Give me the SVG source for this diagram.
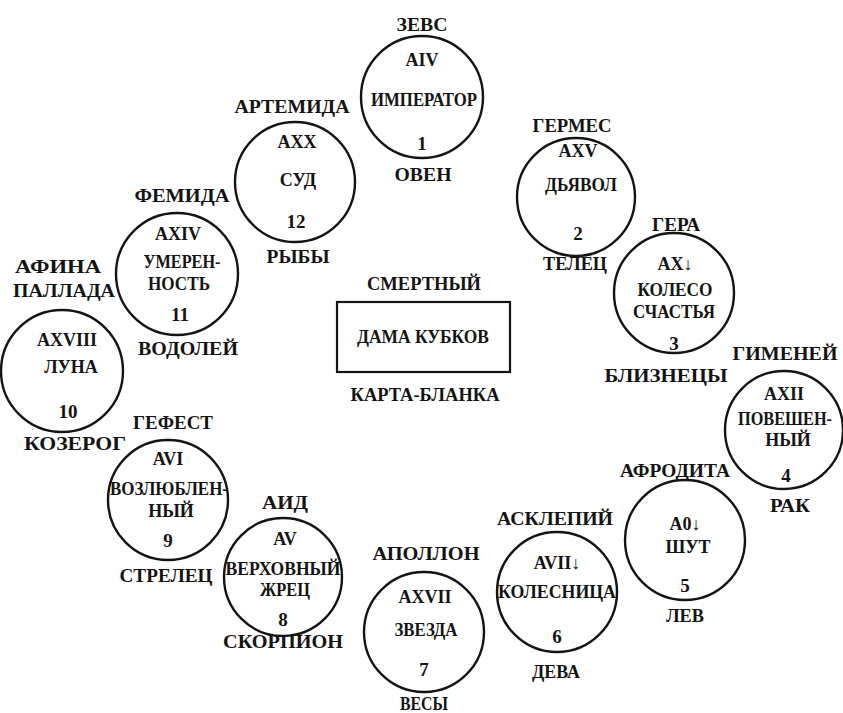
<svg xmlns="http://www.w3.org/2000/svg" width="843" height="713" viewBox="0 0 843 713">
<style>
  .c { fill: none; stroke: #141414; stroke-width: 2.4; }
  .r { fill: none; stroke: #141414; stroke-width: 2.2; }
  text { font-family: "Liberation Serif", "DejaVu Serif", serif; font-weight: bold; fill: #141414; text-anchor: middle; }
  .lab { font-size: 19px; }
  .in { font-size: 18px; }
  .num { font-size: 19px; }
</style>
<rect width="843" height="713" fill="#ffffff"/>

<g id="center">
  <text class="lab" x="424" y="290" textLength="114" lengthAdjust="spacingAndGlyphs">СМЕРТНЫЙ</text>
  <rect class="r" x="337" y="302" width="173" height="70"/>
  <text class="in" x="423" y="343" textLength="132" lengthAdjust="spacingAndGlyphs">ДАМА КУБКОВ</text>
  <text class="lab" x="425" y="401" textLength="149" lengthAdjust="spacingAndGlyphs">КАРТА-БЛАНКА</text>
</g>

<g id="n1">
  <circle class="c" cx="422" cy="97" r="61"/>
  <text class="lab" x="422" y="31" textLength="51" lengthAdjust="spacingAndGlyphs">ЗЕВС</text>
  <text class="in" x="422" y="66">AIV</text>
  <text class="in" x="424" y="106" textLength="106" lengthAdjust="spacingAndGlyphs">ИМПЕРАТОР</text>
  <text class="num" x="422" y="150">1</text>
  <text class="lab" x="423" y="181" textLength="57" lengthAdjust="spacingAndGlyphs">ОВЕН</text>
</g>

<g id="n12">
  <circle class="c" cx="295" cy="182" r="60"/>
  <text class="lab" x="292" y="113" textLength="115" lengthAdjust="spacingAndGlyphs">АРТЕМИДА</text>
  <text class="in" x="297" y="148">AXX</text>
  <text class="in" x="298" y="186">СУД</text>
  <text class="num" x="296" y="228">12</text>
  <text class="lab" x="298" y="263" textLength="63" lengthAdjust="spacingAndGlyphs">РЫБЫ</text>
</g>

<g id="n2">
  <circle class="c" cx="576" cy="197" r="59"/>
  <text class="lab" x="572" y="132" textLength="79" lengthAdjust="spacingAndGlyphs">ГЕРМЕС</text>
  <text class="in" x="578" y="157">AXV</text>
  <text class="in" x="581" y="191" textLength="72" lengthAdjust="spacingAndGlyphs">ДЬЯВОЛ</text>
  <text class="num" x="578" y="240">2</text>
  <text class="lab" x="575" y="270" textLength="64" lengthAdjust="spacingAndGlyphs">ТЕЛЕЦ</text>
</g>

<g id="n3">
  <circle class="c" cx="674" cy="293" r="60"/>
  <text class="lab" x="676" y="231" textLength="48" lengthAdjust="spacingAndGlyphs">ГЕРА</text>
  <text class="in" x="675" y="270">AX↓</text>
  <text class="in" x="675" y="296" textLength="75" lengthAdjust="spacingAndGlyphs">КОЛЕСО</text>
  <text class="in" x="674" y="318" textLength="82" lengthAdjust="spacingAndGlyphs">СЧАСТЬЯ</text>
  <text class="num" x="674" y="350">3</text>
  <text class="lab" x="666" y="382" textLength="123" lengthAdjust="spacingAndGlyphs">БЛИЗНЕЦЫ</text>
</g>

<g id="n4">
  <circle class="c" cx="784" cy="430" r="59"/>
  <text class="lab" x="785" y="360" textLength="105" lengthAdjust="spacingAndGlyphs">ГИМЕНЕЙ</text>
  <text class="in" x="784" y="400">AXII</text>
  <text class="in" x="785" y="425" textLength="94" lengthAdjust="spacingAndGlyphs">ПОВЕШЕН-</text>
  <text class="in" x="788" y="446">НЫЙ</text>
  <text class="num" x="786" y="482">4</text>
  <text class="lab" x="790" y="512" textLength="40" lengthAdjust="spacingAndGlyphs">РАК</text>
</g>

<g id="n5">
  <circle class="c" cx="685" cy="540" r="60"/>
  <text class="lab" x="675" y="477" textLength="110" lengthAdjust="spacingAndGlyphs">АФРОДИТА</text>
  <text class="in" x="685" y="530">A0↓</text>
  <text class="in" x="688" y="553">ШУТ</text>
  <text class="num" x="685" y="592">5</text>
  <text class="lab" x="685" y="622" textLength="38" lengthAdjust="spacingAndGlyphs">ЛЕВ</text>
</g>

<g id="n6">
  <circle class="c" cx="557" cy="592" r="60"/>
  <text class="lab" x="555" y="525" textLength="116" lengthAdjust="spacingAndGlyphs">АСКЛЕПИЙ</text>
  <text class="in" x="557" y="569">AVII↓</text>
  <text class="in" x="557" y="598" textLength="118" lengthAdjust="spacingAndGlyphs">КОЛЕСНИЦА</text>
  <text class="num" x="557" y="643">6</text>
  <text class="lab" x="556" y="678" textLength="48" lengthAdjust="spacingAndGlyphs">ДЕВА</text>
</g>

<g id="n7">
  <circle class="c" cx="424" cy="632" r="60"/>
  <text class="lab" x="426" y="560" textLength="107" lengthAdjust="spacingAndGlyphs">АПОЛЛОН</text>
  <text class="in" x="425" y="603">AXVII</text>
  <text class="in" x="426" y="636" textLength="63" lengthAdjust="spacingAndGlyphs">ЗВЕЗДА</text>
  <text class="num" x="424" y="676">7</text>
  <text class="lab" x="424" y="710" textLength="48" lengthAdjust="spacingAndGlyphs">ВЕСЫ</text>
</g>

<g id="n8">
  <circle class="c" cx="283" cy="577" r="59"/>
  <text class="lab" x="285" y="509" textLength="46" lengthAdjust="spacingAndGlyphs">АИД</text>
  <text class="in" x="285" y="545">AV</text>
  <text class="in" x="283" y="575" textLength="115" lengthAdjust="spacingAndGlyphs">ВЕРХОВНЫЙ</text>
  <text class="in" x="285" y="596" textLength="50" lengthAdjust="spacingAndGlyphs">ЖРЕЦ</text>
  <text class="num" x="283" y="626">8</text>
  <text class="lab" x="283" y="648" textLength="120" lengthAdjust="spacingAndGlyphs">СКОРПИОН</text>
</g>

<g id="n9">
  <circle class="c" cx="168" cy="500" r="60"/>
  <text class="lab" x="173" y="429" textLength="80" lengthAdjust="spacingAndGlyphs">ГЕФЕСТ</text>
  <text class="in" x="168" y="465">AVI</text>
  <text class="in" x="169" y="495" textLength="118" lengthAdjust="spacingAndGlyphs">ВОЗЛЮБЛЕН-</text>
  <text class="in" x="171" y="517">НЫЙ</text>
  <text class="num" x="168" y="547">9</text>
  <text class="lab" x="166" y="582" textLength="93" lengthAdjust="spacingAndGlyphs">СТРЕЛЕЦ</text>
</g>

<g id="n10">
  <circle class="c" cx="62" cy="371" r="61"/>
  <text class="lab" x="58" y="273" textLength="86" lengthAdjust="spacingAndGlyphs">АФИНА</text>
  <text class="lab" x="64" y="297" textLength="102" lengthAdjust="spacingAndGlyphs">ПАЛЛАДА</text>
  <text class="in" x="67" y="346">AXVIII</text>
  <text class="in" x="71" y="373">ЛУНА</text>
  <text class="num" x="68" y="418">10</text>
  <text class="lab" x="75" y="450" textLength="102" lengthAdjust="spacingAndGlyphs">КОЗЕРОГ</text>
</g>

<g id="n11">
  <circle class="c" cx="177" cy="274" r="61"/>
  <text class="lab" x="182" y="202" textLength="95" lengthAdjust="spacingAndGlyphs">ФЕМИДА</text>
  <text class="in" x="178" y="240">AXIV</text>
  <text class="in" x="182" y="268" textLength="77" lengthAdjust="spacingAndGlyphs">УМЕРЕН-</text>
  <text class="in" x="179" y="290" textLength="62" lengthAdjust="spacingAndGlyphs">НОСТЬ</text>
  <text class="num" x="180" y="321">11</text>
  <text class="lab" x="188" y="355" textLength="100" lengthAdjust="spacingAndGlyphs">ВОДОЛЕЙ</text>
</g>

<g id="connectors"></g>
</svg>
